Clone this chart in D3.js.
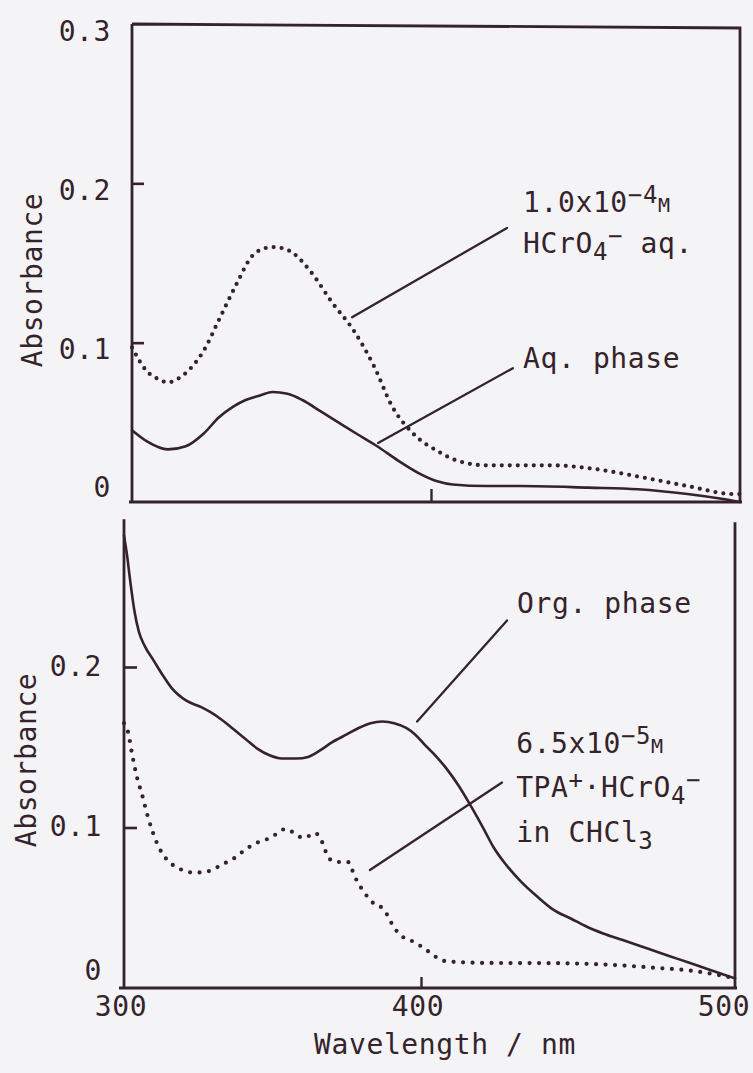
<!DOCTYPE html>
<html>
<head>
<meta charset="utf-8">
<script src="https://cdn.jsdelivr.net/npm/d3@7"></script>
<style>
  html, body { margin: 0; padding: 0; background: #f4f3f5; }
  svg { display: block; }
  text { font-family: "DejaVu Sans Mono", "Liberation Mono", monospace; fill: #35232c; }
</style>
</head>
<body>
<svg id="chart" width="753" height="1073"></svg>
<script>
// ---- Upper panel: aqueous solutions (absorbance vs wavelength, nm) ----
const aqPhaseWl = [300, 305, 312, 318, 324, 329, 334, 338, 343, 347, 352, 357, 363, 369, 375, 382, 389, 396, 402, 407, 418, 429, 451, 467, 483, 494, 500];
const aqPhaseAbs = [0.045, 0.038, 0.033, 0.035, 0.043, 0.053, 0.060, 0.064, 0.067, 0.069, 0.068, 0.064, 0.057, 0.050, 0.043, 0.035, 0.026, 0.018, 0.013, 0.011, 0.010, 0.010, 0.009, 0.008, 0.005, 0.002, 0.000];

const hcro4AqWl = [300, 305, 309, 312, 315, 318, 324, 329, 335, 340, 344, 347, 351, 354, 360, 367, 374, 381, 387, 394, 403, 407, 418, 439, 452, 467, 483, 498, 500];
const hcro4AqAbs = [0.097, 0.082, 0.077, 0.075, 0.077, 0.081, 0.095, 0.114, 0.137, 0.154, 0.159, 0.160, 0.159, 0.156, 0.144, 0.125, 0.108, 0.085, 0.060, 0.043, 0.031, 0.027, 0.023, 0.023, 0.021, 0.016, 0.010, 0.005, 0.005];

// ---- Lower panel: chloroform phase ----
const orgPhaseWl = [300, 301, 302, 303.5, 305, 307, 310, 313, 316, 321, 326, 329, 333, 337, 341, 345, 349, 353, 358, 362, 366, 370, 375, 379, 383, 387, 391, 395, 398, 401, 404, 408, 412, 416, 420, 423, 427, 432, 437, 442, 448, 453, 458, 464, 470, 476, 482, 488, 494, 500];
const orgPhaseAbs = [0.282, 0.270, 0.255, 0.235, 0.222, 0.213, 0.204, 0.195, 0.187, 0.179, 0.175, 0.172, 0.167, 0.161, 0.155, 0.149, 0.145, 0.143, 0.143, 0.144, 0.148, 0.153, 0.158, 0.162, 0.165, 0.166, 0.165, 0.162, 0.158, 0.152, 0.146, 0.137, 0.126, 0.113, 0.099, 0.088, 0.077, 0.066, 0.057, 0.049, 0.043, 0.038, 0.034, 0.030, 0.026, 0.022, 0.018, 0.014, 0.010, 0.006];

const tpaWl = [300, 301.3, 302.7, 304.4, 306, 308, 311.4, 314, 316.2, 319, 322.9, 326, 329.6, 333, 336.4, 340, 344.1, 347, 349.8, 352, 354.2, 356, 358.2, 360.9, 362.5, 364.3, 366.7, 368.7, 370.5, 372, 375.4, 377.8, 381.1, 384.5, 386.9, 388.5, 390.2, 392.5, 394.6, 397.3, 400, 402.9, 405, 407, 413.4, 422, 440, 460, 475, 485, 495, 500];
const tpaAbs = [0.165, 0.160, 0.146, 0.131, 0.121, 0.107, 0.089, 0.081, 0.077, 0.074, 0.072, 0.072, 0.0735, 0.077, 0.080, 0.085, 0.090, 0.092, 0.094, 0.097, 0.099, 0.098, 0.095, 0.0935, 0.095, 0.0966, 0.091, 0.0816, 0.079, 0.0785, 0.0785, 0.069, 0.059, 0.052, 0.050, 0.046, 0.040, 0.034, 0.031, 0.029, 0.026, 0.022, 0.019, 0.017, 0.016, 0.0156, 0.0155, 0.0145, 0.0125, 0.011, 0.008, 0.006];

// ---- Axis ticks and labels ----
const wavelengthTicks = [300, 400, 500];
const wavelengthTickLabels = ["300", "400", "500"];
const upperAbsTicks = [0, 0.1, 0.2, 0.3];
const upperAbsTickLabels = ["0", "0.1", "0.2", "0.3"];
const lowerAbsTicks = [0, 0.1, 0.2];
const lowerAbsTickLabels = ["0", "0.1", "0.2"];
const lowerAbsTop = 0.292;

const ink = "#35232c";
const FS = 28;
const svg = d3.select("#chart");

// Scales (three-point domains follow the slightly uneven plotter axis)
const xUp = d3.scaleLinear().domain([300, 400, 500]).range([132, 431, 740]);
const yUp = d3.scaleLinear().domain([0, 0.3]).range([502, 24]);
const xLo = d3.scaleLinear().domain([300, 400, 500]).range([124, 421, 735]);
const yLo = d3.scaleLinear().domain([0, 0.2]).range([988, 667]);

const zip = (a, b) => a.map((w, i) => [w, b[i]]);

function drawCurve(g, x, y, wl, abs, dotted, gap) {
  const line = d3.line().x(d => x(d[0])).y(d => y(d[1])).curve(d3.curveMonotoneX);
  const p = g.append("path")
    .attr("d", line(zip(wl, abs)))
    .attr("fill", "none")
    .attr("stroke", ink)
    .attr("stroke-linejoin", "round")
    .attr("stroke-linecap", "round");
  if (dotted) {
    p.attr("stroke-width", 4.2).attr("stroke-dasharray", `0 ${gap}`);
  } else {
    p.attr("stroke-width", 2.6);
  }
}

// Text with chemical super/subscripts: segments are [string, kind]
function richText(g, x, y, segs) {
  const t = g.append("text").attr("x", x).attr("y", y)
    .attr("font-size", FS).attr("letter-spacing", 0.6);
  let shift = 0;
  segs.forEach(([s, kind]) => {
    let target = 0, size = FS;
    if (kind === "sup") { target = -9; size = 24; }
    if (kind === "sub") { target = 7; size = 24; }
    if (kind === "small") { target = 0; size = 20; }
    t.append("tspan").attr("dy", target - shift).attr("font-size", size).text(s);
    shift = target;
  });
  return t;
}

function leader(g, x, y, from, to) {
  g.append("line")
    .attr("x1", x(from[0])).attr("y1", y(from[1]))
    .attr("x2", x(to[0])).attr("y2", y(to[1]))
    .attr("stroke", ink).attr("stroke-width", 2.3).attr("stroke-linecap", "round");
}

// ================= Upper panel =================
const up = svg.append("g");
{
  const x0 = xUp.range()[0], x1 = xUp.range()[2];
  const yb = yUp(0), yt = yUp(0.3);
  // frame
  up.append("path")
    .attr("d", `M${x0},${yt} L${x0},${yb} M${x0 - 3},${yb} L${x1 + 2},${yb} M${x1},${yb} L${x1},${yt + 4} L${x0},${yt}`)
    .attr("fill", "none").attr("stroke", ink).attr("stroke-width", 2.8);

  // inward ticks through d3 axes
  up.append("g").attr("transform", `translate(${x0},0)`)
    .call(d3.axisRight(yUp).tickValues([0.1, 0.2]).tickSize(12).tickFormat(""))
    .call(g => g.select(".domain").remove())
    .selectAll("line").attr("stroke", ink).attr("stroke-width", 2.6);
  up.append("g").attr("transform", `translate(0,${yb})`)
    .call(d3.axisTop(xUp).tickValues([400]).tickSize(13).tickFormat(""))
    .call(g => g.select(".domain").remove())
    .selectAll("line").attr("stroke", ink).attr("stroke-width", 2.4);

  // tick labels
  up.selectAll(".ylab").data(upperAbsTicks).join("text")
    .attr("class", "ylab")
    .attr("x", 111)
    .attr("y", d => yUp(d) + (d === 0 ? -15 : 7))
    .attr("dominant-baseline", "central")
    .attr("text-anchor", "end")
    .attr("font-size", FS).attr("letter-spacing", 0.6)
    .text((d, i) => upperAbsTickLabels[i]);

  up.append("text")
    .attr("transform", `translate(32,280) rotate(-90)`)
    .attr("text-anchor", "middle").attr("dominant-baseline", "central")
    .attr("font-size", FS).attr("letter-spacing", 0.6)
    .text("Absorbance");

  drawCurve(up, xUp, yUp, hcro4AqWl, hcro4AqAbs, true, 8);
  drawCurve(up, xUp, yUp, aqPhaseWl, aqPhaseAbs, false);

  // annotations
  richText(up, xUp(429.8), yUp(0.182), [["1.0x10", "n"], ["−4", "sup"], ["M", "small"]]);
  richText(up, xUp(429.8), yUp(0.156), [["HCrO", "n"], ["4", "sub"], ["−", "sup"], [" aq.", "n"]]);
  richText(up, xUp(429.8), yUp(0.084), [["Aq. phase", "n"]]);
  leader(up, xUp, yUp, [424.6, 0.172], [373.6, 0.116]);
  leader(up, xUp, yUp, [426.5, 0.084], [382.3, 0.037]);
}

// ================= Lower panel =================
const lo = svg.append("g");
{
  const x0 = xLo.range()[0], x1 = xLo.range()[2];
  const yb = yLo(0), yt = yLo(lowerAbsTop);
  lo.append("path")
    .attr("d", `M${x0},${yt} L${x0},${yb} M${x0 - 5},${yb} L${x1 + 2},${yb} M${x1},${yb} L${x1},${yt + 3}`)
    .attr("fill", "none").attr("stroke", ink).attr("stroke-width", 2.8);

  lo.append("g").attr("transform", `translate(${x0},0)`)
    .call(d3.axisRight(yLo).tickValues([0.1, 0.2]).tickSize(13).tickFormat(""))
    .call(g => g.select(".domain").remove())
    .selectAll("line").attr("stroke", ink).attr("stroke-width", 2.6);
  lo.append("g").attr("transform", `translate(0,${yb})`)
    .call(d3.axisTop(xLo).tickValues([400]).tickSize(11).tickFormat(""))
    .call(g => g.select(".domain").remove())
    .selectAll("line").attr("stroke", ink).attr("stroke-width", 2.4);

  lo.selectAll(".ylab").data(lowerAbsTicks).join("text")
    .attr("class", "ylab")
    .attr("x", 102)
    .attr("y", d => yLo(d) + (d === 0 ? -18 : -1))
    .attr("dominant-baseline", "central")
    .attr("text-anchor", "end")
    .attr("font-size", FS).attr("letter-spacing", 0.6)
    .text((d, i) => lowerAbsTickLabels[i]);

  lo.selectAll(".xlab").data(wavelengthTicks).join("text")
    .attr("class", "xlab")
    .attr("x", d => Math.min(xLo(d) - 3, 724))
    .attr("y", yb + 18)
    .attr("dominant-baseline", "central")
    .attr("text-anchor", "middle")
    .attr("font-size", FS).attr("letter-spacing", 0.6)
    .text((d, i) => wavelengthTickLabels[i]);

  lo.append("text")
    .attr("x", 445).attr("y", yb + 56)
    .attr("text-anchor", "middle").attr("dominant-baseline", "central")
    .attr("font-size", FS).attr("letter-spacing", 0.6)
    .text("Wavelength / nm");

  lo.append("text")
    .attr("transform", `translate(26,760) rotate(-90)`)
    .attr("text-anchor", "middle").attr("dominant-baseline", "central")
    .attr("font-size", FS).attr("letter-spacing", 0.6)
    .text("Absorbance");

  drawCurve(lo, xLo, yLo, tpaWl, tpaAbs, true, 9.5);
  drawCurve(lo, xLo, yLo, orgPhaseWl, orgPhaseAbs, false);

  richText(lo, xLo(430.6), yLo(0.2336), [["Org. phase", "n"]]);
  richText(lo, xLo(430.3), yLo(0.1464), [["6.5x10", "n"], ["−5", "sup"], ["M", "small"]]);
  richText(lo, xLo(430.3), yLo(0.119), [["TPA", "n"], ["+", "sup"], ["·HCrO", "n"], ["4", "sub"], ["−", "sup"]]);
  richText(lo, xLo(430.3), yLo(0.091), [["in CHCl", "n"], ["3", "sub"]]);
  leader(lo, xLo, yLo, [427.4, 0.229], [398.7, 0.166]);
  leader(lo, xLo, yLo, [425.8, 0.128], [382.8, 0.0735]);
}
</script>
</body>
</html>
